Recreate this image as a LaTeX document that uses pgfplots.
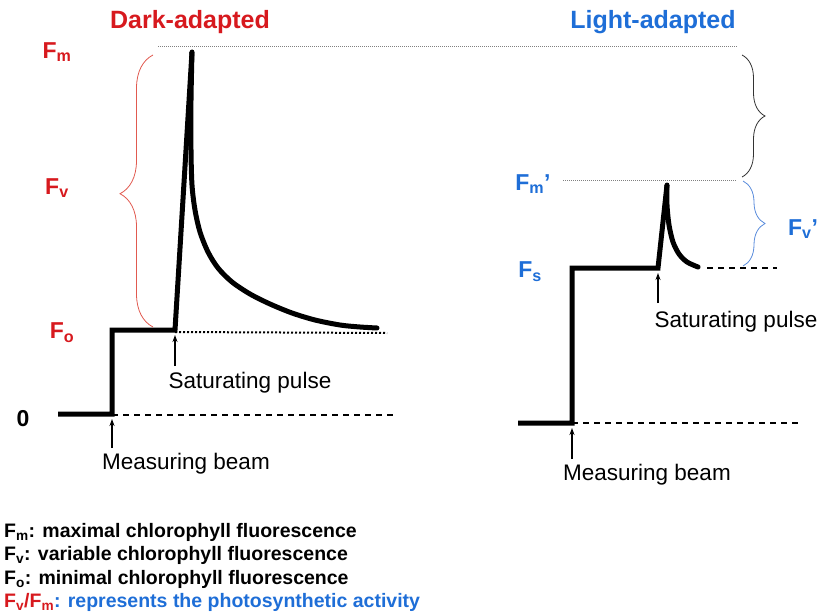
\documentclass[border=0pt]{standalone}
\usepackage{pgfplots}
\pgfplotsset{compat=1.18}
\usepackage{fontspec}
\setmainfont{Liberation Sans}
\usetikzlibrary{decorations.pathreplacing,arrows.meta}
\definecolor{dred}{RGB}{215,25,30}
\definecolor{lblue}{RGB}{30,110,215}
\definecolor{bred}{RGB}{225,90,80}
\definecolor{bblue}{RGB}{90,140,220}
\begin{document}
\begin{tikzpicture}[x=1pt,y=1pt]
\useasboundingbox (0,0) rectangle (819,615);
\begin{axis}[at={(0,0)},anchor=south west,x=1pt,y=1pt,
  xmin=0,xmax=819,ymin=0,ymax=615,y dir=reverse,hide axis,clip=false]
% reference lines
\addplot[gray,line width=1pt,densely dotted] coordinates {(158,47)(738,47)};
\addplot[gray,line width=1pt,densely dotted] coordinates {(563,180)(737,180)};
\addplot[black,line width=1.5pt,dash pattern=on 6pt off 5pt] coordinates {(112,415)(395,415)};
\addplot[black,line width=1.5pt,dash pattern=on 6pt off 5pt] coordinates {(572,423)(802,423)};
\addplot[black,line width=1.5pt,dash pattern=on 6pt off 5pt] coordinates {(707,268)(777,268)};
\addplot[black,line width=2pt,dotted] coordinates {(175,332)(387,333)};
% dark-adapted trace
\addplot[black,line width=5pt,line join=miter,miter limit=2] coordinates {
(58,414)(112,414)(112,330)(175,330)(192,52)};
\addplot[black,line width=5pt,smooth,tension=0.5,line cap=round] coordinates {
(192,52)(191,100)(191,150)(192,185)(195,210)(200,232)(208,252)(218,268)(232,282)(250,294)(270,304)(292,313)(315,320)(340,325)(360,327)(377,328)};
% light-adapted trace
\addplot[black,line width=5pt,line join=miter,miter limit=2] coordinates {
(518,423)(572,423)(572,268)(658,268)(667,185)};
\addplot[black,line width=5pt,smooth,tension=0.5,line cap=round] coordinates {
(667,185)(667,205)(669,225)(673,242)(679,254)(687,262)(698,267)};
% braces
\draw[bred,line width=0.8pt,decorate,decoration={brace,amplitude=33pt,aspect=0.49}] (axis cs:153,327) -- (axis cs:153,55);
\draw[black!80,line width=0.8pt,decorate,decoration={brace,amplitude=23pt}] (axis cs:742,55) -- (axis cs:742,177);
\draw[bblue,line width=0.8pt,decorate,decoration={brace,amplitude=22pt}] (axis cs:743,181) -- (axis cs:743,266);
% arrows
\draw[black,line width=1.3pt,-{Stealth[length=7pt,width=5pt]}] (axis cs:175,366) -- (axis cs:175,335);
\draw[black,line width=1.3pt,-{Stealth[length=7pt,width=5pt]}] (axis cs:112,448) -- (axis cs:112,419);
\draw[black,line width=1.3pt,-{Stealth[length=7pt,width=5pt]}] (axis cs:658,303) -- (axis cs:658,273);
\draw[black,line width=1.3pt,-{Stealth[length=7pt,width=5pt]}] (axis cs:572,459) -- (axis cs:572,428);
% texts
\node[text=dred,font=\fontsize{25}{28}\selectfont\bfseries] at (axis cs:190,22) {Dark-adapted};
\node[text=lblue,font=\fontsize{25}{28}\selectfont\bfseries] at (axis cs:653,22) {Light-adapted};
\node[text=dred,font=\fontsize{23}{26}\selectfont\bfseries] at (axis cs:57,52) {F\textsubscript{m}};
\node[text=dred,font=\fontsize{23}{26}\selectfont\bfseries] at (axis cs:57,188) {F\textsubscript{v}};
\node[text=dred,font=\fontsize{23}{26}\selectfont\bfseries] at (axis cs:62,333) {F\textsubscript{o}};
\node[text=black,font=\fontsize{23}{26}\selectfont\bfseries] at (axis cs:23,419) {0};
\node[text=lblue,font=\fontsize{23}{26}\selectfont\bfseries] at (axis cs:533,184) {F\textsubscript{m}’};
\node[text=lblue,font=\fontsize{23}{26}\selectfont\bfseries] at (axis cs:530,272) {F\textsubscript{s}};
\node[text=lblue,font=\fontsize{23}{26}\selectfont\bfseries] at (axis cs:803,229) {F\textsubscript{v}’};
\node[font=\fontsize{22.5}{26}\selectfont] at (axis cs:250,383) {Saturating pulse};
\node[font=\fontsize{22.5}{26}\selectfont] at (axis cs:186,464) {Measuring beam};
\node[font=\fontsize{22.5}{26}\selectfont] at (axis cs:736,322) {Saturating pulse};
\node[font=\fontsize{22.5}{26}\selectfont] at (axis cs:647,475) {Measuring beam};
\node[anchor=west,inner sep=0pt,font=\fontsize{19.5}{22}\selectfont\bfseries] at (axis cs:4,532) {F\textsubscript{m}: maximal chlorophyll fluorescence};
\node[anchor=west,inner sep=0pt,font=\fontsize{19.5}{22}\selectfont\bfseries] at (axis cs:4,555) {F\textsubscript{v}: variable chlorophyll fluorescence};
\node[anchor=west,inner sep=0pt,font=\fontsize{19.5}{22}\selectfont\bfseries] at (axis cs:4,579) {F\textsubscript{o}: minimal chlorophyll fluorescence};
\node[anchor=west,inner sep=0pt,font=\fontsize{19.5}{22}\selectfont\bfseries] at (axis cs:4,602) {\textcolor{dred}{F\textsubscript{v}/F\textsubscript{m}}\textcolor{lblue}{: represents the photosynthetic activity}};
\end{axis}
\end{tikzpicture}
\end{document}
